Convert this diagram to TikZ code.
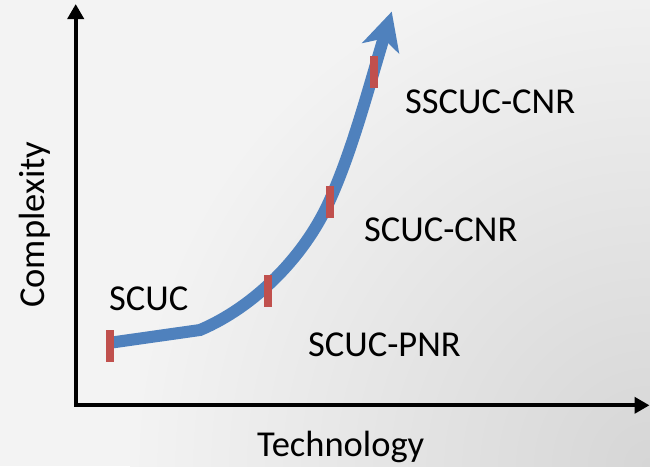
\documentclass[tikz,border=0pt]{standalone}
\usepackage{fontspec}
\setmainfont{Carlito}
\usetikzlibrary{arrows.meta}
\definecolor{curveblue}{HTML}{4F81BD}
\definecolor{barred}{HTML}{C0504D}
\definecolor{bgbase}{HTML}{F3F3F3}
\definecolor{bgdark}{HTML}{D6D6D6}
\begin{document}
\begin{tikzpicture}[x=1pt,y=-1pt,
  lbl/.style={font=\fontsize{36.5}{40}\selectfont, inner sep=0pt, anchor=base west},
  axisline/.style={line width=4pt, line join=miter,
    {Triangle[length=15pt,width=16pt]}-{Triangle[length=15pt,width=16pt]}},
  curveline/.style={draw=curveblue, line width=12pt},
  headfill/.style={fill=curveblue},
  tickbar/.style={fill=barred, draw=none, minimum width=8pt, minimum height=32pt, inner sep=0pt}]
\useasboundingbox (0,0) rectangle (650,466);
\fill[bgbase] (0,0) rectangle (650,466);
\begin{scope}
\clip (0,0) rectangle (650,466);
\shade[inner color=bgdark, outer color=bgbase] (650,466) circle (520pt);
\end{scope}
% axes
\coordinate (ytip) at (75.7,4);
\coordinate (origin) at (75.7,405.3);
\coordinate (xtip) at (649.5,405.3);
\draw[axisline] (ytip) -- (origin) -- (xtip);
% curve
\coordinate (c0) at (112,342.5);
\coordinate (c1) at (200,330);
\coordinate (c2) at (329,202);
\coordinate (c3) at (384,37);
\draw[curveline] (c0) -- (c1) .. controls (255,306.6) and (304.1,256.6) .. (c2)
  .. controls (352.2,151) and (367.8,90.6) .. (c3);
\coordinate (htip) at (391.7,11.7);
\coordinate (hright) at (399.3,54);
\coordinate (hinset) at (383.5,38.5);
\coordinate (hleft) at (361.7,43.3);
\fill[headfill] (htip) -- (hright) -- (hinset) -- (hleft) -- cycle;
% tick bars
\node[tickbar] (t1) at (110.2,346.2) {};
\node[tickbar] (t2) at (267.5,290.8) {};
\node[tickbar] (t3) at (329.8,202.2) {};
\node[tickbar] (t4) at (373.5,72.2) {};
% labels
\node[lbl] (scuc) at (109,310) {SCUC};
\node[lbl] (sscuccnr) at (405,113) {SSCUC-CNR};
\node[lbl] (scuccnr) at (364,241) {SCUC-CNR};
\node[lbl] (scucpnr) at (308,356) {SCUC-PNR};
\node[lbl] (xlab) at (257,456.5) {Technology};
\node[lbl, rotate=90] (ylab) at (44,308) {Complexity};
\end{tikzpicture}
\end{document}
